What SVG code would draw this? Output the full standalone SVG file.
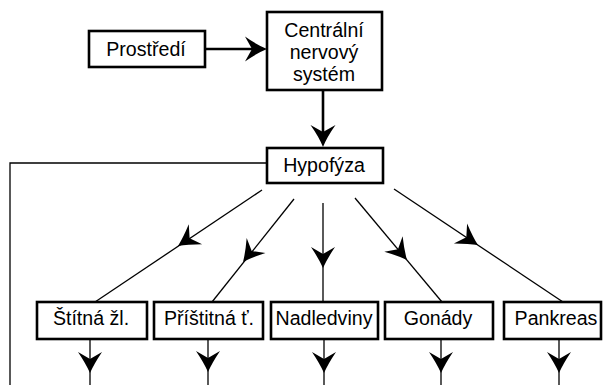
<svg xmlns="http://www.w3.org/2000/svg" xmlns:xlink="http://www.w3.org/1999/xlink" width="603" height="385" viewBox="0 0 603 385">
<style>
  .box { fill: #fff; stroke: #000; stroke-width: 2.6; }
  .lbl { font-family: "Liberation Sans", Arial, sans-serif; font-size: 19.6px; fill: #000; text-anchor: middle; }
  .thin { stroke: #000; stroke-width: 1.3; fill: none; }
  .thick { stroke: #000; stroke-width: 2.6; fill: none; }
  .ah { fill: #000; }
</style>
<defs>
  <path id="ah" class="ah" d="M0,0 Q-9,-4 -21,-12 L-14,0 L-21,12 Q-9,4 0,0 Z"/>
  <path id="ahb" class="ah" d="M0,0 Q-10,-4 -22,-12.5 L-15,0 L-22,12.5 Q-10,4 0,0 Z"/>
</defs>
<rect width="603" height="385" fill="#fff"/>
<g id="connectors">
  <line class="thick" x1="205" y1="49" x2="255" y2="49"/>
  <use xlink:href="#ahb" transform="translate(267,49)"/>
  <line class="thick" x1="323" y1="90" x2="323" y2="135"/>
  <use xlink:href="#ahb" transform="translate(323,147) rotate(90)"/>
  <polyline class="thin" points="267,163 10,163 10,385"/>
  <line class="thin" x1="262" y1="190" x2="95" y2="302"/>
  <use xlink:href="#ah" transform="translate(178,246) rotate(146.15)"/>
  <line class="thin" x1="294" y1="199" x2="212" y2="302"/>
  <use xlink:href="#ah" transform="translate(243,262) rotate(128.5)"/>
  <line class="thin" x1="323" y1="203" x2="323" y2="302"/>
  <use xlink:href="#ah" transform="translate(323,268) rotate(90)"/>
  <line class="thin" x1="355" y1="198" x2="442" y2="302"/>
  <use xlink:href="#ah" transform="translate(407,260) rotate(49.8)"/>
  <line class="thin" x1="394" y1="189" x2="563" y2="302"/>
  <use xlink:href="#ah" transform="translate(478,245) rotate(33.5)"/>
  <line class="thin" x1="90" y1="339" x2="90" y2="385"/>
  <use xlink:href="#ah" transform="translate(90,373) rotate(90)"/>
  <line class="thin" x1="208" y1="339" x2="208" y2="385"/>
  <use xlink:href="#ah" transform="translate(208,372) rotate(90)"/>
  <line class="thin" x1="324" y1="339" x2="324" y2="385"/>
  <use xlink:href="#ah" transform="translate(324,373) rotate(90)"/>
  <line class="thin" x1="441" y1="339" x2="441" y2="385"/>
  <use xlink:href="#ah" transform="translate(441,373) rotate(90)"/>
  <line class="thin" x1="559" y1="339" x2="559" y2="385"/>
  <use xlink:href="#ah" transform="translate(559,373) rotate(90)"/>
</g>
<g id="prostredi">
  <rect class="box" x="89" y="31" width="116" height="36"/>
  <text class="lbl" x="146" y="56">Prostředí</text>
</g>
<g id="cns">
  <rect class="box" x="267" y="12" width="115" height="78"/>
  <text class="lbl" x="324" y="37">Centrální</text>
  <text class="lbl" x="324" y="59">nervový</text>
  <text class="lbl" x="324" y="81">systém</text>
</g>
<g id="hypofyza">
  <rect class="box" x="267" y="148" width="116" height="35"/>
  <text class="lbl" x="324" y="172">Hypofýza</text>
</g>
<g id="stitna">
  <rect class="box" x="37" y="302" width="110" height="37"/>
  <text class="lbl" x="91" y="325">Štítná žl.</text>
</g>
<g id="pristitna">
  <rect class="box" x="154" y="302" width="109" height="37"/>
  <text class="lbl" x="209" y="325">Příštitná ť.</text>
</g>
<g id="nadledviny">
  <rect class="box" x="271" y="302" width="107" height="37"/>
  <text class="lbl" x="324" y="325">Nadledviny</text>
</g>
<g id="gonady">
  <rect class="box" x="385" y="302" width="108" height="37"/>
  <text class="lbl" x="438" y="325">Gonády</text>
</g>
<g id="pankreas">
  <rect class="box" x="504" y="302" width="97" height="37"/>
  <text class="lbl" x="556" y="325">Pankreas</text>
</g>
</svg>
